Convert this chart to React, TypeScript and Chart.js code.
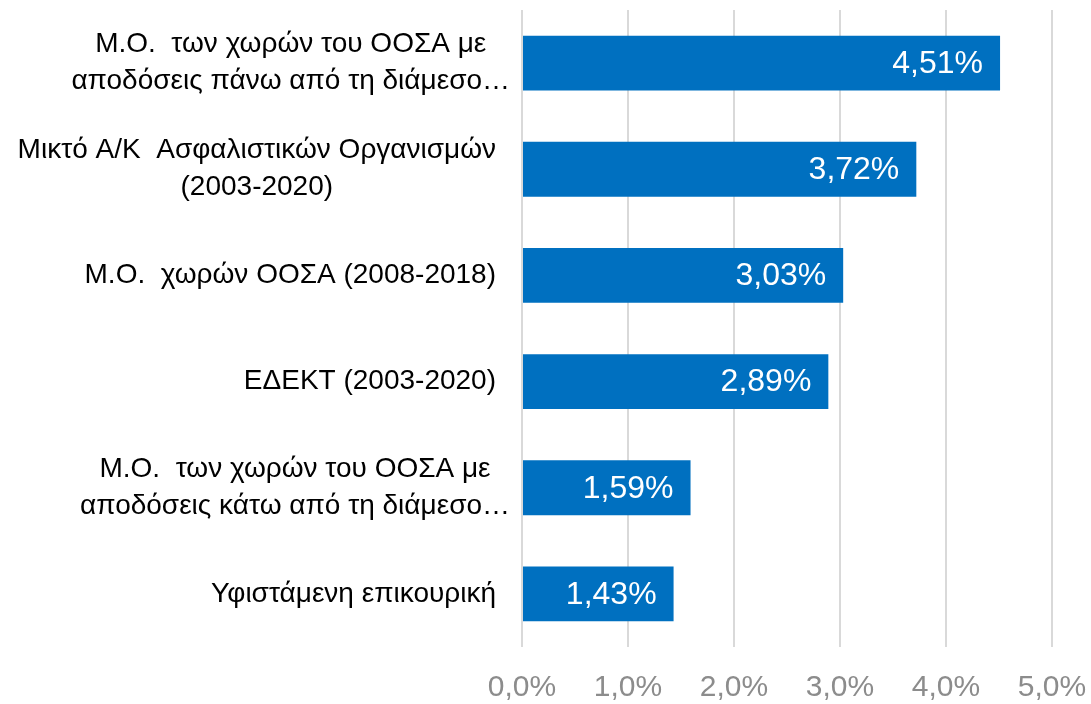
import React, { useEffect, useRef } from "react";
import { Chart, registerables } from "chart.js";

Chart.register(...registerables);

const categories: string[][] = [
  ["Μ.Ο.  των χωρών του ΟΟΣΑ με", "αποδόσεις πάνω από τη διάμεσο…"],
  ["Μικτό Α/Κ  Ασφαλιστικών Οργανισμών", "(2003-2020)"],
  ["Μ.Ο.  χωρών ΟΟΣΑ (2008-2018)"],
  ["ΕΔΕΚΤ (2003-2020)"],
  ["Μ.Ο.  των χωρών του ΟΟΣΑ με", "αποδόσεις κάτω από τη διάμεσο…"],
  ["Υφιστάμενη επικουρική"],
];
const values: number[] = [4.51, 3.72, 3.03, 2.89, 1.59, 1.43];
const xTicks: number[] = [0, 1, 2, 3, 4, 5];

const FONT = "'Liberation Sans', Arial, sans-serif";
const fmtPct = (v: number, d: number) => v.toFixed(d).replace(".", ",") + "%";

const labelPlugin = {
  id: "customLabels",
  afterDraw(chart: any) {
    const ctx = chart.ctx;
    const yScale = chart.scales.y;
    ctx.save();
    ctx.font = `28px ${FONT}`;
    ctx.fillStyle = "#000000";
    ctx.textAlign = "center";
    ctx.textBaseline = "middle";
    const rightEdge = 496;
    const lineH = 37;
    categories.forEach((lines, i) => {
      const yc = yScale.getPixelForValue(i);
      const w = Math.max(...lines.map((l) => ctx.measureText(l.replace(/…$/, "")).width));
      const xc = rightEdge - w / 2;
      const n = lines.length;
      lines.forEach((l, j) => {
        const y = yc + (j - (n - 1) / 2) * lineH;
        ctx.fillText(l, xc, y);
      });
    });
    ctx.font = `32px ${FONT}`;
    ctx.fillStyle = "#ffffff";
    ctx.textAlign = "right";
    const meta = chart.getDatasetMeta(0);
    meta.data.forEach((bar: any, i: number) => {
      ctx.fillText(fmtPct(values[i], 2), bar.x - 17, bar.y + 1);
    });
    ctx.restore();
  },
};

export default function App() {
  const ref = useRef<HTMLCanvasElement | null>(null);
  useEffect(() => {
    if (!ref.current) return;
    const chart = new Chart(ref.current, {
      type: "bar",
      data: {
        labels: categories.map((c) => c.join(" ")),
        datasets: [
          {
            data: values,
            backgroundColor: "#0070C0",
            borderWidth: 0,
            barPercentage: 0.86,
            categoryPercentage: 0.6,
          },
        ],
      },
      options: {
        indexAxis: "y",
        animation: false,
        responsive: true,
        maintainAspectRatio: false,
        layout: { padding: { top: 10, right: 39, left: 0, bottom: 0 } },
        plugins: {
          legend: { display: false },
          tooltip: { enabled: false },
        },
        scales: {
          x: {
            min: 0,
            max: 5,
            afterBuildTicks: (scale: any) => {
              scale.ticks = xTicks.map((v) => ({ value: v }));
            },
            afterFit: (scale: any) => {
              scale.height = 57;
              scale.paddingLeft = 0;
              scale.paddingRight = 0;
            },
            grid: { color: "#d9d9d9", lineWidth: 2, drawTicks: false },
            border: { display: false },
            ticks: {
              padding: 23,
              color: "#8c8c8c",
              font: { family: FONT, size: 30 },
              callback: (v: any) => fmtPct(Number(v), 1),
            },
          },
          y: {
            grid: { display: false },
            border: { display: false },
            ticks: { display: false },
            afterFit: (scale: any) => {
              scale.width = 522;
            },
          },
        },
      },
      plugins: [labelPlugin],
    });
    return () => chart.destroy();
  }, []);
  return (
    <div style={{ position: "fixed", left: 0, top: 0, width: 1091, height: 704, background: "#fff" }}>
      <canvas ref={ref} />
    </div>
  );
}
